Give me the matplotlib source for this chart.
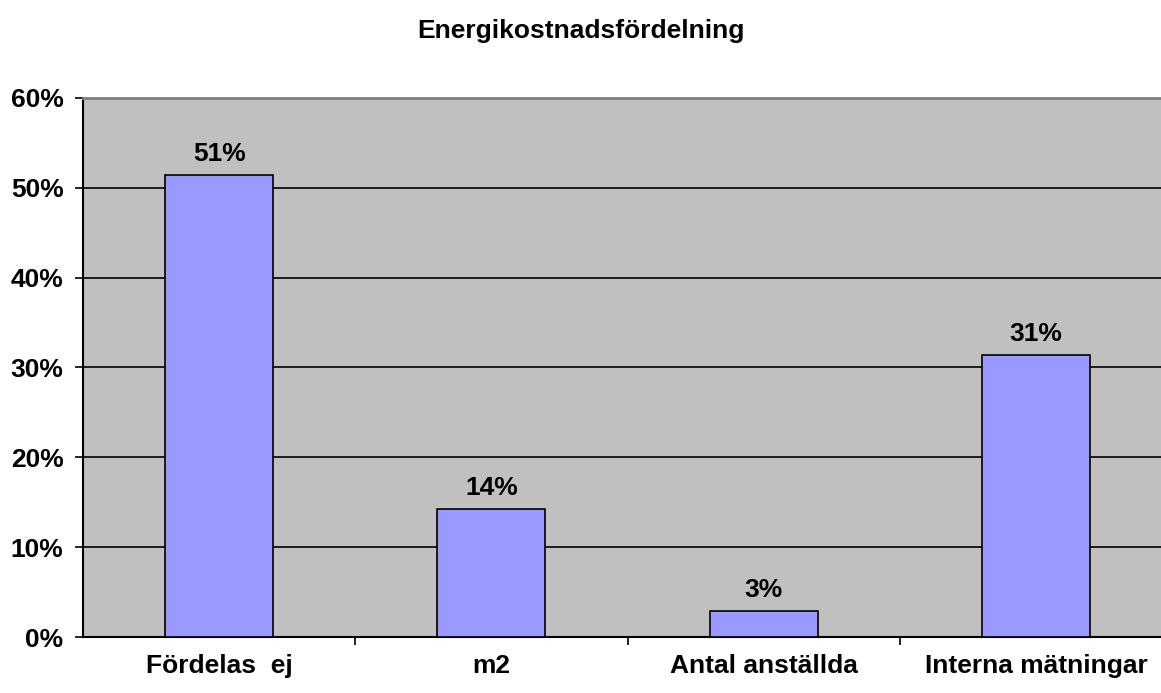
import matplotlib
matplotlib.use("Agg")
import matplotlib.pyplot as plt
import numpy as np

categories = ["Fördelas  ej", "m2", "Antal anställda", "Interna mätningar"]
shares = [0.514, 0.142, 0.029, 0.314]
y_ticks = [0.0, 0.1, 0.2, 0.3, 0.4, 0.5, 0.6]

plt.rcParams['font.family'] = ['Liberation Sans', 'DejaVu Sans']
FS = 19

fig = plt.figure(figsize=(11.61, 6.93), dpi=100)
# plot area runs a little past the right edge of the figure
ax = fig.add_axes([0.0715, 0.0808, 0.9380, 0.7778])
ax.set_facecolor('#c0c0c0')

x = np.arange(len(categories)) + 0.5
ax.bar(x, shares, width=0.397, color='#9999ff', edgecolor='black', linewidth=1.2, zorder=3)

for xi, v in zip(x, shares):
    ax.text(xi, v + 0.010, f"{v * 100:.0f}%", ha='center', va='bottom',
            fontsize=FS, fontweight='bold', zorder=4)

ax.set_xlim(0, len(categories))
ax.set_ylim(0, 0.6)
ax.set_yticks(y_ticks)
ax.set_yticklabels([f"{t * 100:.0f}%" for t in y_ticks], fontsize=FS, fontweight='bold')
ax.yaxis.grid(True, color='black', linewidth=1.2, zorder=1)
ax.set_axisbelow(True)

# category separators as ticks, names centred below each bar
ax.set_xticks(np.arange(1, len(categories)))
ax.set_xticklabels([])
ax.set_xticks(x, minor=True)
ax.set_xticklabels(categories, minor=True, fontsize=FS, fontweight='bold')
ax.tick_params(axis='x', which='minor', length=0, pad=12)
ax.tick_params(axis='x', which='major', length=6, width=1.2, direction='out')
ax.tick_params(axis='y', length=6, width=1.2, direction='out', pad=8)

ax.spines['left'].set_linewidth(1.5)
ax.spines['bottom'].set_linewidth(1.5)
ax.spines['top'].set_color('#808080')
ax.spines['top'].set_linewidth(2)
ax.spines['right'].set_visible(False)

fig.text(0.5, 0.955, "Energikostnadsfördelning", ha='center', va='center',
         fontsize=FS, fontweight='bold')

fig.savefig("out.png", dpi=100)
